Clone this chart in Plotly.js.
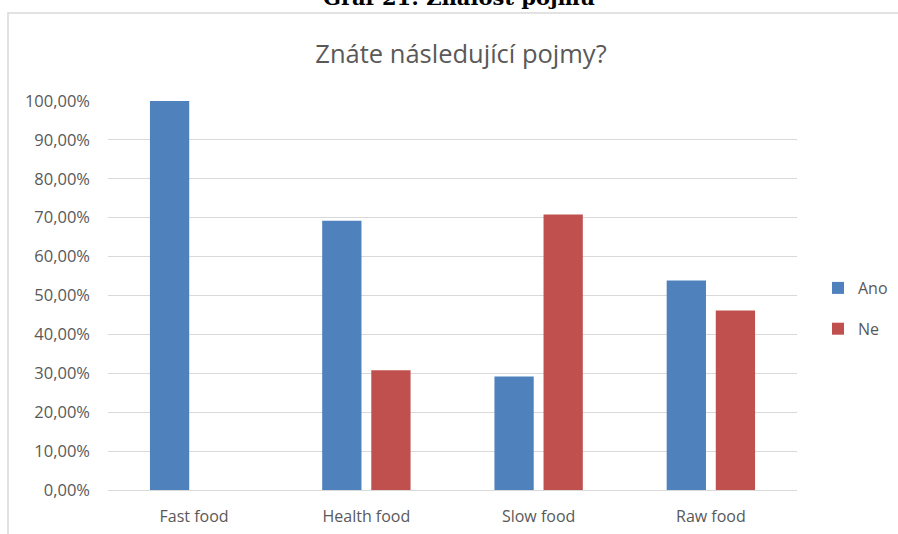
<!DOCTYPE html>
<html>
<head>
<meta charset="utf-8">
<script src="https://cdn.plot.ly/plotly-3.0.1.min.js"></script>
<style>
  html, body { margin: 0; padding: 0; background: #fff; }
  #chart { width: 898px; height: 534px; }
</style>
</head>
<body>
<div id="chart"></div>
<script>
// Survey: awareness of food concepts (share of respondents, %)
const categories = ['Fast food', 'Health food', 'Slow food', 'Raw food'];
const seriesNames = ['Ano', 'Ne'];
const valuesAno = [100.00, 69.23, 29.17, 53.85];
const valuesNe = [0.00, 30.77, 70.83, 46.15];
const yTicks = [0, 10, 20, 30, 40, 50, 60, 70, 80, 90, 100];
const yTickText = yTicks.map(v => v.toFixed(2).replace('.', ',') + '%');

const FONT = '"Open Sans", Lato, "Liberation Sans", sans-serif';
const GREY_TEXT = '#595959';
const GRID = '#d9d9d9';

const traces = [
  {
    type: 'bar', name: seriesNames[0], x: categories, y: valuesAno,
    marker: { color: '#4F81BD' }, legendgroup: 'a', hoverinfo: 'x+y'
  },
  {
    type: 'bar', name: seriesNames[1], x: categories, y: valuesNe,
    marker: { color: '#C0504D' }, legendgroup: 'b', hoverinfo: 'x+y'
  }
];

// plot area in px: x 108..797, y 101..490
const L = 108, R = 797, T = 101, B = 490, W = 898, H = 534;
const px = v => (v - L) / (R - L);
const py = v => (B - v) / (B - T);

const layout = {
  width: W, height: H,
  margin: { l: L, r: W - R, t: T, b: H - B, pad: 0, autoexpand: false },
  paper_bgcolor: '#ffffff',
  plot_bgcolor: '#ffffff',
  separators: ', ',
  font: { family: FONT, color: GREY_TEXT, size: 16 },
  title: {
    text: 'Znáte následující pojmy?',
    font: { family: FONT, size: 25.5, color: GREY_TEXT },
    x: 461 / W, xanchor: 'center',
    y: 1 - 54 / H, yanchor: 'middle', xref: 'container', yref: 'container'
  },
  barmode: 'group',
  bargap: 0.43,
  bargroupgap: 0.2,
  xaxis: {
    type: 'category',
    showgrid: false,
    showline: true, linecolor: GRID, linewidth: 1,
    ticks: '', tickfont: { family: FONT, size: 16, color: GREY_TEXT },
    ticklabelstandoff: 12,
    fixedrange: true
  },
  yaxis: {
    range: [0, 100],
    tickvals: yTicks,
    ticktext: yTickText,
    showgrid: true, gridcolor: GRID, gridwidth: 1,
    zeroline: true, zerolinecolor: GRID, zerolinewidth: 1,
    showline: false, ticks: '',
    ticklabelstandoff: 17,
    tickfont: { family: FONT, size: 16.5, color: GREY_TEXT },
    fixedrange: true
  },
  showlegend: true,
  legend: {
    x: px(818), xanchor: 'left',
    y: py(271), yanchor: 'top',
    font: { family: FONT, size: 16, color: GREY_TEXT },
    itemwidth: 30,
    tracegroupgap: 17,
    itemclick: false, itemdoubleclick: false,
    bgcolor: 'rgba(0,0,0,0)'
  },
  shapes: [
    // chart frame
    {
      type: 'rect', xref: 'paper', yref: 'paper',
      x0: px(8), x1: px(905), y0: py(545), y1: py(13),
      line: { color: GRID, width: 1.5 }, fillcolor: 'rgba(0,0,0,0)', layer: 'below'
    }
  ],
  annotations: [
    {
      text: '<b>Graf 21: Znalost pojmů</b>',
      xref: 'paper', yref: 'paper',
      x: px(459), xanchor: 'center',
      y: py(-2), yanchor: 'middle',
      showarrow: false,
      font: { family: '"DejaVu Serif", "Liberation Serif", serif', size: 21, color: '#000000' }
    }
  ]
};

Plotly.newPlot('chart', traces, layout, { displayModeBar: false, staticPlot: true });
</script>
</body>
</html>
